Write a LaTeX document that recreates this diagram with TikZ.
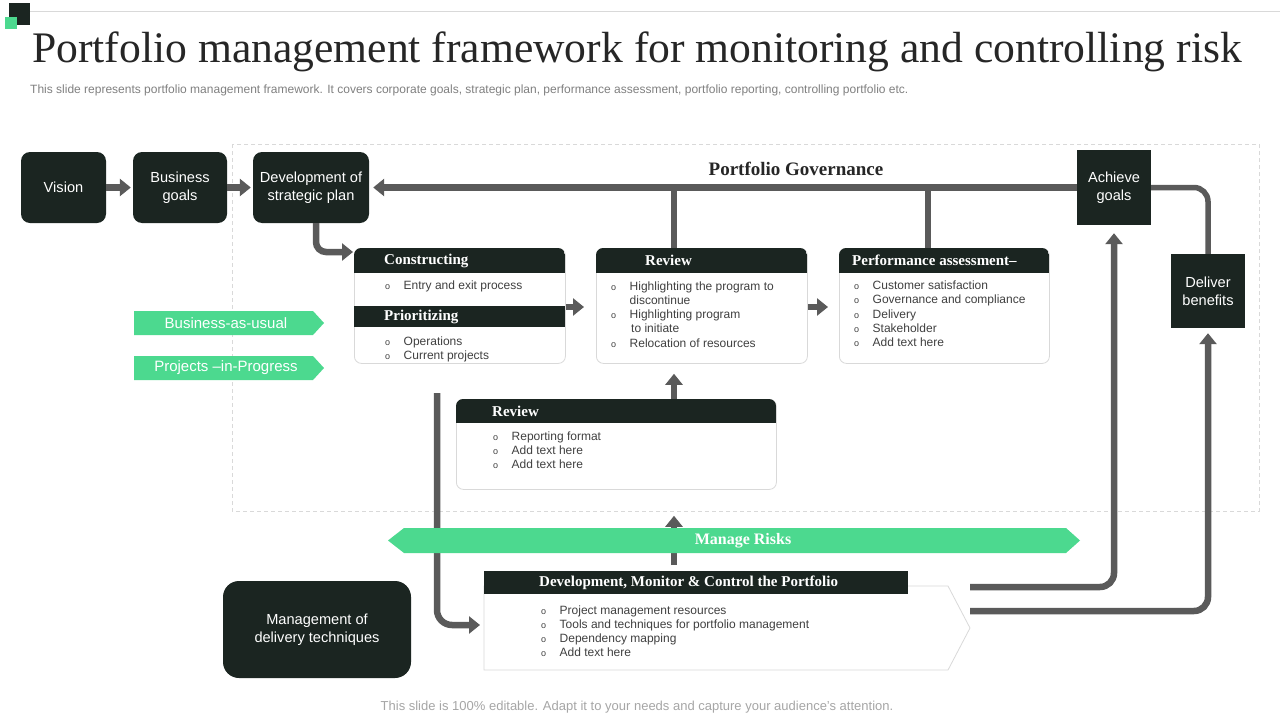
\documentclass[tikz,border=0pt]{standalone}
\usepackage{fontspec}
\setmainfont{Liberation Serif}
\setsansfont{Liberation Sans}
\usetikzlibrary{arrows.meta}
\definecolor{dk}{HTML}{1B2521}
\definecolor{gr}{HTML}{4CD98F}
\definecolor{ar}{HTML}{5A5A5A}
\definecolor{bd}{HTML}{D9D9D9}
\definecolor{tx}{HTML}{404040}
\newcommand\bul{{\fontsize{9}{9}\selectfont o}}
\newenvironment{blist}{\begin{tabular}[t]{@{}l@{\hspace{13.5pt}}l@{}}}{\end{tabular}}
\begin{document}
\begin{tikzpicture}[x=1pt,y=-1pt,
  darkbox/.style={fill=dk, text=white, font=\sffamily\fontsize{14.6}{18}\selectfont, align=center, inner sep=0pt},
  wbox/.style={draw=bd, fill=white, line width=0.8pt, rounded corners=7pt, inner sep=0pt},
  htext/.style={text=white, font=\bfseries\fontsize{15}{18}\selectfont, inner sep=0pt, anchor=west},
  ltext/.style={text=tx, font=\sffamily\fontsize{12}{14.3}\selectfont, inner sep=0pt, anchor=base west},
  gtext/.style={text=white, font=\sffamily\fontsize{15}{18}\selectfont, inner sep=0pt},
  ln/.style={draw=ar, line width=5.5pt},
  arr/.style={draw=ar, line width=6.5pt, -{Triangle[length=11pt,width=17pt]}},
]
\useasboundingbox (0,0) rectangle (1280,720);
\fill[white] (0,0) rectangle (1280,720);
% corner mark and top rule
\draw[bd, line width=0.8pt] (30,11) -- (1280,11);
\fill[dk] (9,3) rectangle (30,25);
\fill[gr] (5,17) rectangle (17,29);
% title
\node[anchor=base west, inner sep=0pt, text=black!85, font=\fontsize{43.6}{50}\selectfont] (title) at (32,62) {Portfolio management framework for monitoring and controlling risk};
\node[anchor=west, inner sep=0pt, text=black!50, font=\sffamily\fontsize{12}{14}\selectfont] (sub) at (30,90) {This slide represents portfolio management framework. It covers corporate goals, strategic plan, performance assessment, portfolio reporting, controlling portfolio etc.};
% dashed frame
\draw[bd, line width=0.8pt, dash pattern=on 4pt off 3pt] (232,144) rectangle (1259,511);

% dark boxes
\node[darkbox, minimum width=85pt, minimum height=71pt, rounded corners=9pt] (vision) at (63.5,187.5) {Vision};
\node[darkbox, minimum width=94pt, minimum height=71pt, rounded corners=9pt] (business) at (180,187.5) {Business\\goals};
\node[darkbox, minimum width=116pt, minimum height=71pt, rounded corners=9pt] (devplan) at (311,187.5) {Development of\\strategic plan};
\node[darkbox, minimum width=74pt, minimum height=75pt] (achieve) at (1114,187.5) {Achieve\\goals};
\node[darkbox, minimum width=74pt, minimum height=74pt] (deliver) at (1208,291) {Deliver\\benefits};
\node[darkbox, minimum width=188pt, minimum height=97pt, rounded corners=16pt] (mgmt) at (317,629.5) {Management of\\delivery techniques};

% white panels
\node[wbox, anchor=north west, minimum width=211pt, minimum height=115pt] (cons) at (354,248) {};
\node[wbox, anchor=north west, minimum width=211pt, minimum height=115pt] (review) at (596,248) {};
\node[wbox, anchor=north west, minimum width=210pt, minimum height=115pt] (perf) at (839,248) {};
\node[wbox, anchor=north west, minimum width=320pt, minimum height=90pt] (rev2) at (456,399) {};

\begin{scope}
  \clip[rounded corners=7pt] (354,248) rectangle (565,363);
  \fill[dk] (354,248) rectangle (565,273);
\end{scope}
\fill[dk] (354,306) rectangle (565,327);
\begin{scope}
  \clip[rounded corners=7pt] (596,248) rectangle (807,363);
  \fill[dk] (596,248) rectangle (807,273);
\end{scope}
\begin{scope}
  \clip[rounded corners=7pt] (839,248) rectangle (1049,363);
  \fill[dk] (839,248) rectangle (1049,273);
\end{scope}
\begin{scope}
  \clip[rounded corners=7pt] (456,399) rectangle (776,489);
  \fill[dk] (456,399) rectangle (776,423);
\end{scope}

\node[htext] (hcons) at (384,261) {Constructing};
\node[htext] (hprio) at (384,317) {Prioritizing};
\node[htext] (hrev) at (645,260.5) {Review};
\node[htext] (hperf) at (852,260.5) {Performance assessment–};
\node[htext] (hrev2) at (492,411) {Review};

\node[ltext] (lcons1) at (385,289.5) {\begin{blist}\bul & Entry and exit process\end{blist}};
\node[ltext] (lcons2) at (385,345.5) {\begin{blist}\bul & Operations\\ \bul & Current projects\end{blist}};
\node[ltext] (lrev) at (611,290) {\begin{blist}\bul & Highlighting the program to\\ & discontinue\\ \bul & Highlighting program\\ & \hspace{1.5pt}to initiate\\ \bul & Relocation of resources\end{blist}};
\node[ltext] (lperf) at (854,289.5) {\begin{blist}\bul & Customer satisfaction\\ \bul & Governance and compliance\\ \bul & Delivery\\ \bul & Stakeholder\\ \bul & Add text here\end{blist}};
\node[ltext] (lrev2) at (493,440) {\begin{blist}\bul & Reporting format\\ \bul & Add text here\\ \bul & Add text here\end{blist}};

% development / monitor panel
\draw[bd, fill=white, line width=0.8pt] (484,586) -- (948,586) -- (970,628) -- (948,670) -- (484,670) -- cycle;
\node[fill=dk, anchor=north west, minimum width=424pt, minimum height=23pt, inner sep=0pt] (devhead) at (484,571) {};
\node[htext] (hdev) at (539,582.5) {Development, Monitor \& Control the Portfolio};
\coordinate (devbody) at (484,628);
\node[ltext] (ldev) at (541,614) {\begin{blist}\bul & Project management resources\\ \bul & Tools and techniques for portfolio management\\ \bul & Dependency mapping\\ \bul & Add text here\end{blist}};

% connectors
\coordinate (g1) at (674,187);
\coordinate (g2) at (928,187);
\coordinate (s1) at (437,393);
\coordinate (o1) at (970,587);
\coordinate (o2) at (970,611);
\draw[arr, shorten >=2pt] (vision) -- (business);
\draw[arr, shorten >=2pt] (business) -- (devplan);
\draw[arr, shorten >=4pt] (achieve.west) -- (devplan.east);
\draw[ln] (g1) -- (g1 |- review.north);
\draw[ln] (g2) -- (g2 |- perf.north);
\draw[ln, rounded corners=14pt] (achieve.east) -| (deliver.north);
\draw[arr, rounded corners=10pt] ([xshift=5pt]devplan.south) |- ([xshift=-1pt]cons.west |- 0,252);
\draw[arr, shorten >=12pt] (cons.east |- 0,307) -- (review.west |- 0,307);
\draw[arr, shorten >=11pt] (review.east |- 0,307) -- (perf.west |- 0,307);
\draw[arr, shorten >=10pt] (rev2.north -| g1) -- (review.south -| g1);
\draw[arr, shorten <=6pt, shorten >=26pt] (devhead.north -| g1) -- (rev2.south -| g1);
\draw[arr, rounded corners=15pt, shorten >=4pt] (s1) |- (devbody.west |- 0,625);
\draw[arr, rounded corners=14pt, shorten >=8pt] (o1) -| (achieve.south);
\draw[arr, rounded corners=14pt, shorten >=5pt] (o2) -| (deliver.south);

\node[inner sep=0pt, text=black!85, font=\bfseries\fontsize{19}{22}\selectfont] (gov) at (796,169) {Portfolio Governance};

% green banners
\fill[gr] (134,311) -- (313,311) -- (324,323) -- (313,335) -- (134,335) -- cycle;
\node[gtext] (bau) at (226,323) {Business-as-usual};
\fill[gr] (134,356) -- (313,356) -- (324,368) -- (313,380) -- (134,380) -- cycle;
\node[gtext] (pip) at (226,368) {Projects –in-Progress};
\fill[gr] (388,540.5) -- (404,528) -- (1066,528) -- (1080,540.5) -- (1066,553) -- (404,553) -- cycle;
\node[text=white, inner sep=0pt, font=\bfseries\fontsize{16}{19}\selectfont] (risks) at (743,541) {Manage Risks};

% footer
\node[inner sep=0pt, text=black!35, font=\sffamily\fontsize{13}{15}\selectfont] (foot) at (637,707) {This slide is 100\% editable. Adapt it to your needs and capture your audience's attention.};
\end{tikzpicture}
\end{document}
